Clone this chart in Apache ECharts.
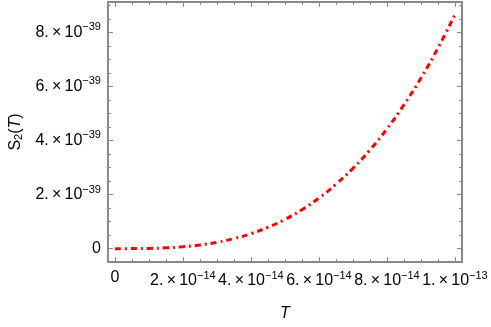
<!DOCTYPE html>
<html lang="en">
<head>
  <meta charset="UTF-8" />
  <title>S2(T)</title>
  <script src="https://cdn.jsdelivr.net/npm/echarts@6/dist/echarts.min.js"></script>
  <style>
    body { margin: 0; background: #fff; }
    #chart { width: 491px; height: 327px; }
  </style>
</head>
<body>
  <div id="chart"></div>
  <script>
    // T in units of 1e-14, S2 in units of 1e-39
    const tValues = [0, 0.5, 1, 1.5, 2, 2.5, 3, 3.5, 4, 4.5, 5, 5.5, 6, 6.5, 7, 7.5, 8, 8.5, 9, 9.5, 10];
    const sValues = [0, 0.001, 0.009, 0.029, 0.069, 0.135, 0.234, 0.371, 0.554, 0.789, 1.08,
                     1.44, 1.87, 2.38, 2.97, 3.65, 4.43, 5.32, 6.31, 7.42, 8.66];

    const xMajor = [0, 2, 4, 6, 8, 10];
    const xLabels = ['0', '2.', '4.', '6.', '8.', '1.'];
    const xExp = ['', '−14', '−14', '−14', '−14', '−13'];
    const xMinor = [0.5, 1, 1.5, 2.5, 3, 3.5, 4.5, 5, 5.5, 6.5, 7, 7.5, 8.5, 9, 9.5];

    const yMajor = [0, 2, 4, 6, 8];
    const yLabels = ['0', '2.', '4.', '6.', '8.'];
    const yExp = '−39';
    const yMinor = [0.5, 1, 1.5, 2.5, 3, 3.5, 4.5, 5, 5.5, 6.5, 7, 7.5, 8.5, 9];

    const frame = '#888';
    const rich = {
      m: { fontFamily: 'Liberation Sans', fontSize: 16, color: '#000' },
      e: { fontFamily: 'Liberation Sans', fontSize: 11, color: '#000', padding: [0, 0, 10, 0] }
    };

    function sciLabel(base, exp) {
      if (!exp) return '{m|' + base + '}';
      return '{m|' + base + '\u2009×\u200910}{e|' + exp + '}';
    }

    function tickAxis(pos, ext, vals, len) {
      return {
        type: 'value', position: pos, min: ext[0], max: ext[1],
        axisLine: { show: false, onZero: false },
        axisTick: { show: true, inside: true, length: len, customValues: vals,
                    lineStyle: { color: frame, width: 1 } },
        axisLabel: { show: false },
        splitLine: { show: false }
      };
    }

    const xExt = [-0.203, 10.207];
    const yExt = [-0.494, 9.12];

    const chart = echarts.init(document.getElementById('chart'));
    chart.setOption({
      animation: false,
      grid: { left: 102, right: 29, top: 2, bottom: 64, show: true,
              borderColor: frame, borderWidth: 2, backgroundColor: 'transparent' },
      xAxis: [
        {
          type: 'value', position: 'bottom', min: xExt[0], max: xExt[1],
          axisLine: { show: false, onZero: false },
          axisTick: { show: true, inside: true, length: 5, customValues: xMajor,
                      lineStyle: { color: frame, width: 1 } },
          axisLabel: {
            customValues: xMajor, margin: 8, rich: rich,
            formatter: v => {
              const i = xMajor.indexOf(v);
              return i < 0 ? '' : sciLabel(xLabels[i], xExp[i]);
            }
          },
          splitLine: { show: false },
          name: 'T', nameLocation: 'middle', nameGap: 44,
          nameTextStyle: { fontFamily: 'Liberation Sans', fontSize: 16, fontStyle: 'italic', color: '#000' }
        },
        tickAxis('bottom', xExt, xMinor, 3),
        tickAxis('top', xExt, xMajor, 5),
        tickAxis('top', xExt, xMinor, 3)
      ],
      yAxis: [
        {
          type: 'value', position: 'left', min: yExt[0], max: yExt[1],
          axisLine: { show: false, onZero: false },
          axisTick: { show: true, inside: true, length: 5, customValues: yMajor,
                      lineStyle: { color: frame, width: 1 } },
          axisLabel: {
            customValues: yMajor, margin: 7, rich: rich,
            formatter: v => {
              const i = yMajor.indexOf(v);
              return i < 0 ? '' : sciLabel(yLabels[i], i === 0 ? '' : yExp);
            }
          },
          splitLine: { show: false },
          name: '{s|S}{b|2}{s|(}{i|T}{s|)}', nameLocation: 'middle', nameGap: 78, nameRotate: 90,
          nameTextStyle: {
            rich: {
              s: { fontFamily: 'Liberation Sans', fontSize: 16, color: '#000' },
              b: { fontFamily: 'Liberation Sans', fontSize: 11, color: '#000', padding: [6, 0, 0, 0] },
              i: { fontFamily: 'Liberation Sans', fontSize: 16, fontStyle: 'italic', color: '#000' }
            }
          }
        },
        tickAxis('left', yExt, yMinor, 3),
        tickAxis('right', yExt, yMajor, 5),
        tickAxis('right', yExt, yMinor, 3)
      ],
      series: [{
        type: 'line',
        xAxisIndex: 0, yAxisIndex: 0,
        data: tValues.map((t, i) => [t, sValues[i]]),
        smooth: true,
        showSymbol: false,
        lineStyle: { color: '#ff0000', width: 3, type: [6, 4, 2, 4] }
      }]
    });
  </script>
</body>
</html>
